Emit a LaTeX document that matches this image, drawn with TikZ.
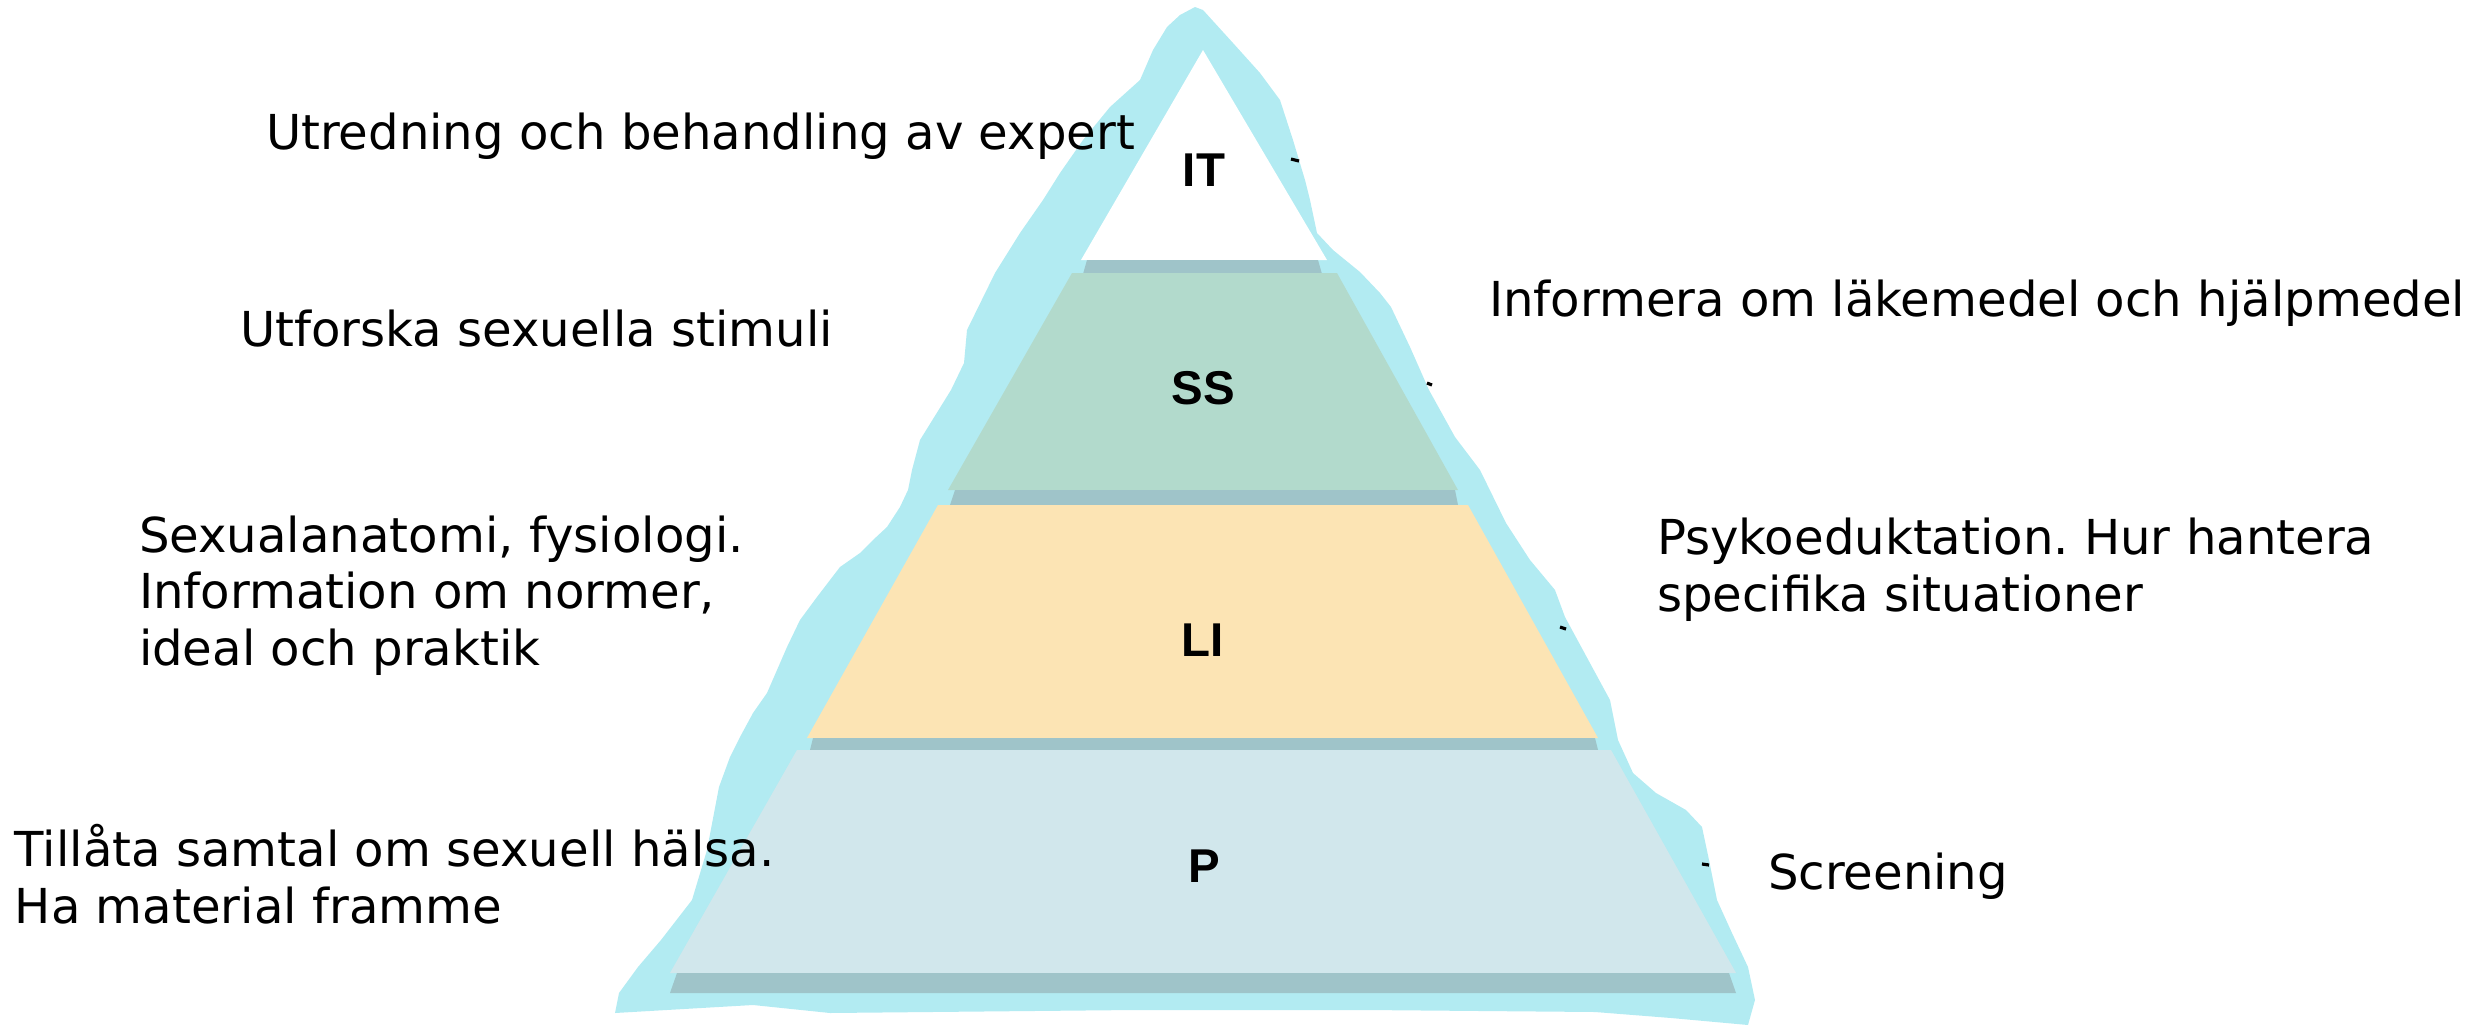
\documentclass[tikz,border=0pt]{standalone}
\usepackage{fontspec}
\setmainfont{DejaVu Sans}
\newfontfamily\tierfont{Liberation Sans}
\frenchspacing
\definecolor{glacier}{RGB}{178,235,242}
\definecolor{bandgray}{RGB}{159,196,201}
\definecolor{tiergreen}{RGB}{178,218,204}
\definecolor{tieryellow}{RGB}{252,228,180}
\definecolor{tierblue}{RGB}{209,231,236}

\begin{document}
\begin{tikzpicture}[
    x=0.1mm, y=-0.1mm,
    every node/.style={inner sep=0pt, outer sep=0pt},
    note/.style={anchor=base west, align=left, font=\fontsize{13.7}{16}\selectfont},
    tier label/.style={font=\tierfont\bfseries\fontsize{13.5}{16}\selectfont},
    band/.style={fill=bandgray},
    stub/.style={draw, line width=0.9pt},
    ]
\useasboundingbox (0,0) rectangle (2479,1026);
% cyan backdrop
\fill[glacier] (1195,7) -- (1203,10) -- (1233,43) -- (1260,73) -- (1280,100)
  -- (1293,140) -- (1305,180) -- (1310,200) -- (1317,233) -- (1333,250)
  -- (1360,272) -- (1380,293) -- (1391,307) -- (1410,347) -- (1429,390)
  -- (1455,437) -- (1480,470) -- (1506,523) -- (1530,560) -- (1555,590)
  -- (1565,617) -- (1610,700) -- (1618,740) -- (1633,773) -- (1656,793)
  -- (1686,810) -- (1702,827) -- (1709,860) -- (1717,900) -- (1732,933)
  -- (1748,967) -- (1755,1000) -- (1748,1025) -- (1671,1018) -- (1595,1012)
  -- (1365,1010) -- (1135,1010) -- (830,1013) -- (753,1005) -- (615,1013)
  -- (619,993) -- (638,967) -- (661,940) -- (692,900) -- (707,850)
  -- (719,787) -- (730,757) -- (740,737) -- (753,713) -- (767,693)
  -- (777,670) -- (787,647) -- (800,620) -- (817,597) -- (830,580)
  -- (840,567) -- (860,553) -- (873,540) -- (887,527) -- (900,507)
  -- (908,490) -- (912,470) -- (920,440) -- (951,390) -- (964,363)
  -- (967,330) -- (995,273) -- (1020,233) -- (1043,200) -- (1060,173)
  -- (1083,140) -- (1110,107) -- (1140,80) -- (1153,50) -- (1167,27)
  -- (1180,15) -- cycle;
% tiers
\fill[white] (1203,50) -- (1327,260) -- (1081,260) -- cycle;
\fill[band] (1087,260) -- (1318,260) -- (1322,274) -- (1083,274) -- cycle;
\fill[tiergreen] (1072,273) -- (1337,273) -- (1458,490) -- (948,490) -- cycle;
\fill[band] (955,490) -- (1455,490) -- (1458,505) -- (950,505) -- cycle;
\fill[tieryellow] (938,505) -- (1468,505) -- (1598,738) -- (807,738) -- cycle;
\fill[band] (813,738) -- (1595,738) -- (1598,750) -- (810,750) -- cycle;
\fill[tierblue] (797,750) -- (1611,750) -- (1736,973) -- (670,973) -- cycle;
\fill[band] (677,973) -- (1729,973) -- (1736,993) -- (670,993) -- cycle;
\draw[stub] (1291,159) -- (1299,161);
\draw[stub] (1427,383) -- (1432,385);
\draw[stub] (1560,627) -- (1566,629);
\draw[stub] (1702,864) -- (1709,865);
% tier names
\node[tier label] (IT) at (1204,170) {IT};
\node[tier label] (SS) at (1203,388) {SS};
\node[tier label] (LI) at (1203,640) {LI};
\node[tier label] (P) at (1204,866) {P};
% left notes (base = last line)
\node[note] (expert) at (266,149) {Utredning och behandling av expert};
\node[note] (stimuli) at (240,346) {Utforska sexuella stimuli};
\node[note] (anatomi) at (139,665) {Sexualanatomi, fysiologi.\\Information om normer,\\ideal och praktik};
\node[note] (samtal) at (15,923) {Tillåta samtal om sexuell hälsa.\\Ha material framme};
% right notes
\node[note] (medel) at (1489,316) {Informera om läkemedel och hjälpmedel};
\node[note] (psyko) at (1657,611) {Psykoeduktation. Hur hantera\\specifika situationer};
\node[note] (screening) at (1768,889) {Screening};
\end{tikzpicture}
\end{document}
